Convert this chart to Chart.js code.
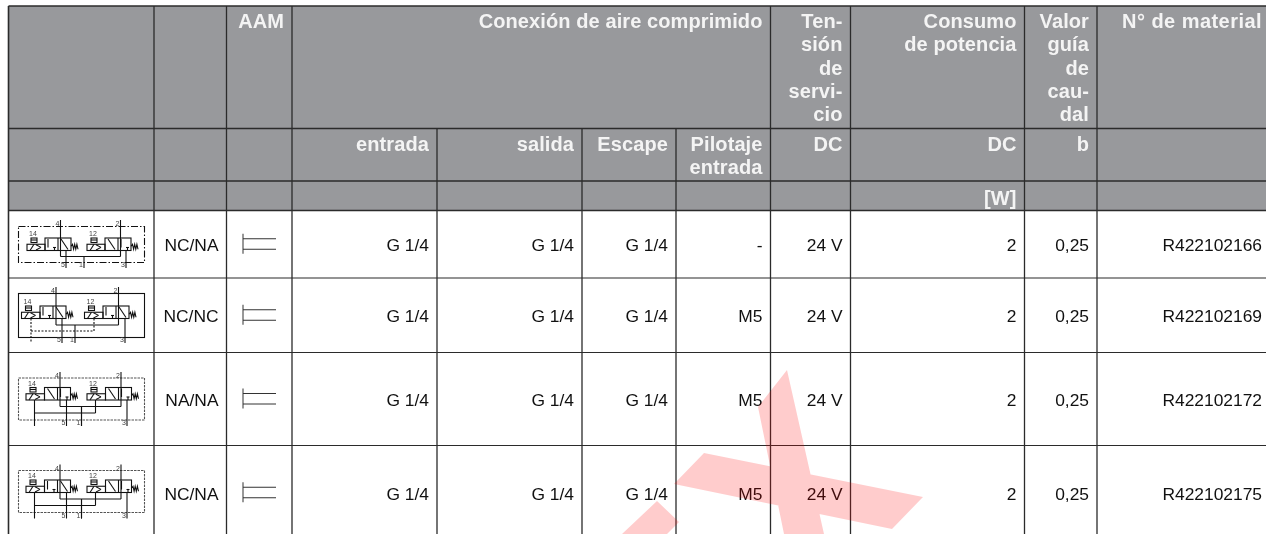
<!DOCTYPE html>
<html>
<head>
<meta charset="utf-8">
<style>
  html, body { margin: 0; padding: 0; background: #fff; overflow: hidden; }
  canvas { display: block; }
</style>
<script src="https://cdn.jsdelivr.net/npm/chart.js@4"></script>
</head>
<body>
<canvas id="table" width="1266" height="534"></canvas>
<script>
// table text, one entry per column
const headerTop = ['', '', 'AAM', '', '', '', 'Conexión de aire comprimido', 'Ten-\nsión\nde\nservi-\ncio', 'Consumo\nde potencia', 'Valor\nguía\nde\ncau-\ndal', 'N° de material'];
const headerSub = ['', '', '', 'entrada', 'salida', 'Escape', 'Pilotaje\nentrada', 'DC', 'DC', 'b', ''];
const headerUnit = ['', '', '', '', '', '', '', '', '[W]', '', ''];

// table text, one entry per row
const positions = ['NC/NA', 'NC/NC', 'NA/NA', 'NC/NA'];
const portIn = ['G 1/4', 'G 1/4', 'G 1/4', 'G 1/4'];
const portOut = ['G 1/4', 'G 1/4', 'G 1/4', 'G 1/4'];
const portExhaust = ['G 1/4', 'G 1/4', 'G 1/4', 'G 1/4'];
const portPilot = ['-', 'M5', 'M5', 'M5'];
const voltage = ['24 V', '24 V', '24 V', '24 V'];
const power = ['2', '2', '2', '2'];
const flow = ['0,25', '0,25', '0,25', '0,25'];
const material = ['R422102166', 'R422102169', 'R422102172', 'R422102175'];

// grid of the table, in scale units
const columnEdges = [8.5, 154, 226.5, 292, 437, 582, 676, 770.5, 850.5, 1024.5, 1097, 1270];
const rowEdges = [6, 128.5, 181, 210.5, 278, 352.5, 445.5, 540];
const headerRows = 3;
const mergedEdges = [437, 582, 676]; // no rule in the first header row here

const GREY = '#98999c';
const RULE = '#2b2b2b';

// the big red X stamped over the sheet
const stampDown = [[787, 370], [824, 534], [784, 534], [758, 407]];
const stampAcross = [[704, 453], [923, 497], [892, 529], [674, 484]];
const stampFoot = [[657, 501], [679, 522], [667, 534], [622, 534]];

// valve symbols drawn in the first column
const symbols = [
  { box: [226.5, 262.5], line: 'dash', valve: [238, 250.5], valves: [45, 105], pilot: 18, top: [60.5, 120.5], topY: 220, low: [66, 84, 126], lowY: 268, common: 256.5, states: [0, 1] },
  { box: [293.5, 337.5], line: 'solid', valve: [306, 318.5], valves: [40, 103], pilot: 18.5, top: [56, 118.5], topY: 287, low: [62, 75, 125], lowY: 343, common: 325, states: [0, 0], pilotDash: 331 },
  { box: [378, 420], line: 'dots', valve: [387.5, 400], valves: [44.5, 105.5], pilot: 18.5, top: [60, 121], topY: 372, low: [66.5, 81.5, 127], lowY: 426, common: 406.5, states: [1, 1], pilotLine: 413 },
  { box: [470.5, 512.5], line: 'dots', valve: [480, 492.5], valves: [44.5, 105.5], pilot: 18.5, top: [60, 121], topY: 464.5, low: [66.5, 81.5, 127], lowY: 518.5, common: 499, states: [0, 1], pilotLine: 505.5 }
];
const symbolLabels = { pilots: ['14', '12'], top: ['4', '2'], low: ['5', '1', '3'] };

function rule(points, width) {
  return { data: points, borderColor: RULE, borderWidth: width, pointRadius: 0, fill: false, tension: 0 };
}

const datasets = [];
const gridBottom = rowEdges[rowEdges.length - 1];
const gridRight = columnEdges[columnEdges.length - 1];
rowEdges.forEach(function (y, i) {
  datasets.push(rule([{ x: columnEdges[0], y: y }, { x: gridRight, y: y }], i <= headerRows ? 1.6 : 1.2));
});
columnEdges.forEach(function (x, i) {
  const start = mergedEdges.includes(x) ? rowEdges[1] : rowEdges[0];
  datasets.push(rule([{ x: x, y: start }, { x: x, y: gridBottom }], i === 0 ? 1.6 : 1.3));
});
// grey header band, last so it lies under the rules
datasets.push({
  data: [{ x: columnEdges[0], y: rowEdges[0] }, { x: gridRight, y: rowEdges[0] }],
  borderWidth: 0, pointRadius: 0, backgroundColor: GREY,
  fill: { value: rowEdges[headerRows] }
});

function drawColumnText(chart, texts, baseline, font, color, spacing) {
  const ctx = chart.ctx, xs = chart.scales.x, ys = chart.scales.y;
  ctx.font = font;
  ctx.fillStyle = color;
  ctx.textAlign = 'right';
  ctx.textBaseline = 'alphabetic';
  texts.forEach(function (text, col) {
    text.split('\n').forEach(function (line, n) {
      // the degree sign sits wider in the original
      ctx.letterSpacing = line.indexOf('°') >= 0 ? '0.45px' : spacing;
      ctx.fillText(line, xs.getPixelForValue(columnEdges[col + 1] - 8), ys.getPixelForValue(baseline + n * 23.3));
    });
  });
  ctx.letterSpacing = '0px';
}

function drawSymbol(ctx, xs, ys, s) {
  const X = function (v) { return xs.getPixelForValue(v); };
  const Y = function (v) { return ys.getPixelForValue(v); };
  const seg = function (x1, y1, x2, y2) {
    ctx.beginPath(); ctx.moveTo(X(x1), Y(y1)); ctx.lineTo(X(x2), Y(y2)); ctx.stroke();
  };
  const top = s.valve[0], bottom = s.valve[1], mid = (top + bottom) / 2;
  const w = 26, cell = w / 2;

  ctx.save();
  ctx.lineWidth = 1.1;

  // enclosure
  ctx.setLineDash(s.line === 'dash' ? [7, 2, 1.5, 2] : s.line === 'dots' ? [2.5, 1] : []);
  ctx.strokeStyle = s.line === 'dots' ? '#555' : '#111';
  ctx.strokeRect(X(18.5), Y(s.box[0]), 126, s.box[1] - s.box[0]);
  ctx.setLineDash([]);
  ctx.strokeStyle = '#111';

  s.valves.forEach(function (vx, i) {
    // valve body
    ctx.strokeRect(X(vx), Y(top), w, bottom - top);
    seg(vx + cell, top, vx + cell, bottom);
    const openLeft = s.states[i] === 1;
    const diag = openLeft ? vx : vx + cell;
    const flat = openLeft ? vx + cell : vx;
    seg(diag + 3, top + 1, diag + cell - 3, bottom - 1);
    seg(flat + 3, top + 1, flat + 3, bottom - 3);
    seg(flat + cell - 5, bottom - 3, flat + cell - 2, bottom - 3);
    seg(flat + cell - 3.5, bottom - 3, flat + cell - 3.5, bottom);

    // pilot and solenoid
    const px = vx - s.pilot;
    ctx.strokeRect(X(px), Y(mid), s.pilot, bottom - mid);
    seg(px + 3, bottom, px + 7, mid);
    seg(px + 9, mid + 0.5, px + 14, (mid + bottom) / 2);
    seg(px + 14, (mid + bottom) / 2, px + 9, bottom - 0.5);
    ctx.strokeRect(X(px + 4), Y(top), 6, 4.5);
    seg(px + 4, top + 2, px + 10, top + 2);

    // spring
    ctx.beginPath();
    ctx.moveTo(X(vx + w), Y(mid + 2));
    for (let k = 0; k < 6; k++) {
      ctx.lineTo(X(vx + w + 1.5 + k * 1.1), Y(k % 2 ? mid + 5 : mid));
    }
    ctx.stroke();

    // upper working port
    seg(s.top[i], s.topY, s.top[i], bottom);
  });

  // exhaust and supply lines
  s.low.forEach(function (x, i) {
    seg(x, i === 1 ? s.common : bottom, x, s.lowY);
  });
  seg(s.top[0], bottom, s.top[0], s.common);
  seg(s.top[0], s.common, s.top[1], s.common);
  seg(s.top[1], bottom, s.top[1], s.common);

  // pilot air
  if (s.pilotLine) {
    const a = s.valves[0] - 10, b = s.valves[1] - 10;
    seg(a, bottom, a, s.lowY);
    seg(b, bottom, b, s.pilotLine);
    seg(a, s.pilotLine, b, s.pilotLine);
    seg(s.low[1], s.common, s.low[1], s.lowY);
  }
  if (s.pilotDash) {
    const a = s.valves[0] - 9, b = s.valves[1] - 9;
    ctx.setLineDash([2, 1.5]);
    seg(a, bottom, a, s.lowY);
    seg(b, bottom, b, s.pilotDash);
    seg(a, s.pilotDash, b, s.pilotDash);
    ctx.setLineDash([]);
  }

  // little port numbers
  ctx.fillStyle = '#444';
  ctx.font = '7px "Liberation Sans"';
  ctx.textAlign = 'center';
  ctx.textBaseline = 'alphabetic';
  s.valves.forEach(function (vx, i) {
    ctx.fillText(symbolLabels.pilots[i], X(vx - s.pilot + 6), Y(top - 2));
    ctx.fillText(symbolLabels.top[i], X(s.top[i] - 3), Y(s.topY + 6));
  });
  s.low.forEach(function (x, i) {
    ctx.fillText(symbolLabels.low[i], X(x - 3), Y(s.lowY - 1));
  });
  ctx.restore();
}

const tablePlugin = {
  id: 'tableText',
  afterDatasetsDraw: function (chart) {
    const ctx = chart.ctx, xs = chart.scales.x, ys = chart.scales.y;
    const headFont = 'bold 20px "Liberation Sans"';
    drawColumnText(chart, headerTop, rowEdges[0] + 22, headFont, '#f4f4f4', '0.1px');
    drawColumnText(chart, headerSub, rowEdges[1] + 22.5, headFont, '#f4f4f4', '0.1px');
    drawColumnText(chart, headerUnit, rowEdges[2] + 24, headFont, '#f4f4f4', '0.1px');

    const bodyFont = '17.4px "Liberation Sans"';
    positions.forEach(function (_, r) {
      const center = (rowEdges[headerRows + r] + rowEdges[headerRows + r + 1]) / 2;
      const cells = ['', positions[r], '', portIn[r], portOut[r], portExhaust[r], portPilot[r], voltage[r], power[r], flow[r], material[r]];
      const base = center + 7;
      drawColumnText(chart, cells, base, bodyFont, '#111', '0px');

      // actuator sign in the AAM column
      ctx.save();
      ctx.strokeStyle = '#333';
      ctx.lineWidth = 1;
      [[243, base - 17.5, 243, base + 2.5], [243, base - 12.5, 276, base - 12.5], [243, base - 2, 276, base - 2]].forEach(function (l) {
        ctx.beginPath();
        ctx.moveTo(xs.getPixelForValue(l[0]), ys.getPixelForValue(l[1]));
        ctx.lineTo(xs.getPixelForValue(l[2]), ys.getPixelForValue(l[3]));
        ctx.stroke();
      });
      ctx.restore();
    });

    symbols.forEach(function (s) { drawSymbol(ctx, xs, ys, s); });
  },
  afterDraw: function (chart) {
    const ctx = chart.ctx, xs = chart.scales.x, ys = chart.scales.y;
    ctx.save();
    ctx.fillStyle = 'rgba(255, 0, 0, 0.2)';
    ctx.beginPath();
    [stampDown, stampAcross, stampFoot].forEach(function (poly) {
      poly.forEach(function (p, i) {
        const x = xs.getPixelForValue(p[0]), y = ys.getPixelForValue(p[1]);
        if (i === 0) ctx.moveTo(x, y); else ctx.lineTo(x, y);
      });
      ctx.closePath();
    });
    ctx.fill();
    ctx.restore();
  }
};

new Chart(document.getElementById('table'), {
  type: 'line',
  data: { datasets: datasets },
  plugins: [tablePlugin],
  options: {
    responsive: false,
    animation: false,
    layout: { padding: 0 },
    plugins: { legend: { display: false }, tooltip: { enabled: false } },
    scales: {
      x: { type: 'linear', display: false, min: 0, max: 1266 },
      y: { type: 'linear', display: false, min: 0, max: 534, reverse: true }
    }
  }
});
</script>
</body>
</html>
